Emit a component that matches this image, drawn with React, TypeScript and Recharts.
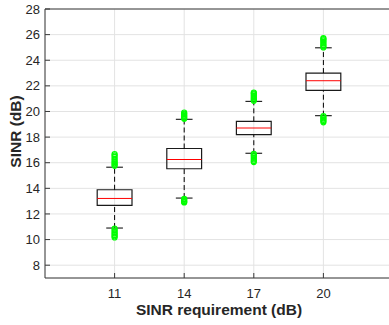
import React from 'react';
import {
  ComposedChart,
  XAxis,
  YAxis,
  CartesianGrid,
  ReferenceArea,
  ReferenceLine,
  Scatter,
} from 'recharts';

// SINR requirement categories (dB)
const categories = ['11', '14', '17', '20'];

// box statistics per category
const whiskerLow = [10.9, 13.24, 16.74, 19.67];
const q1 = [12.67, 15.53, 18.19, 21.64];
const median = [13.21, 16.25, 18.71, 22.4];
const q3 = [13.89, 17.11, 19.23, 23.0];
const whiskerHigh = [15.65, 19.39, 20.79, 24.97];

// outliers
const outliers11 = [15.76, 15.85, 15.95, 16.05, 16.18, 16.3, 16.45, 16.58, 16.68, 10.85, 10.72, 10.6, 10.48, 10.36, 10.25, 10.16];
const outliers14 = [19.43, 19.5, 19.58, 19.66, 19.75, 19.84, 19.92, 13.17, 13.1, 13.02, 12.94, 12.9];
const outliers17 = [20.83, 20.92, 21.02, 21.12, 21.22, 21.33, 21.42, 21.48, 16.7, 16.6, 16.5, 16.38, 16.26, 16.14, 16.05];
const outliers20 = [25.0, 25.1, 25.2, 25.32, 25.44, 25.55, 25.65, 25.72, 19.64, 19.55, 19.45, 19.35, 19.25, 19.15];

const yTicks = [8, 10, 12, 14, 16, 18, 20, 22, 24, 26, 28];
const xTicks = [1, 2, 3, 4];

const BOX_HALF = 0.25;
const CAP_HALF = 0.12;

const outlierPoints = [outliers11, outliers14, outliers17, outliers20].flatMap((list, i) =>
  list.map((v) => ({ x: i + 1, y: v }))
);

const axisColor = '#3a3a3a';
const textColor = '#262626';
const font = '"Liberation Sans", Arial, Helvetica, sans-serif';

const OutlierMarker = (props: any) => (
  <circle cx={props.cx} cy={props.cy} r={2.5} fill="none" stroke="#00ff00" strokeWidth={1.2} />
);

const YLabel = (props: any) => {
  const vb = props.viewBox;
  const x = 15;
  const y = vb.y + vb.height / 2 - 12;
  return (
    <text
      x={x}
      y={y}
      transform={`rotate(-90 ${x} ${y})`}
      textAnchor="middle"
      dominantBaseline="central"
      fontFamily={font}
      fontWeight="bold"
      fontSize={15.5}
      fill={textColor}
    >
      SINR (dB)
    </text>
  );
};

const App = () => {
  return (
    <div style={{ position: 'absolute', left: 0, top: 0, width: 389, height: 325, overflow: 'hidden', background: '#fff' }}>
      <ComposedChart width={400} height={325} margin={{ top: 0, right: 0, bottom: 0, left: 0 }}>
        <CartesianGrid stroke="#e3e3e3" strokeWidth={1} />
        <XAxis
          dataKey="x"
          type="number"
          domain={[0, 5]}
          ticks={xTicks}
          interval={0}
          tickFormatter={(v: number) => categories[v - 1]}
          height={47}
          stroke={axisColor}
          tickSize={-5}
          tickMargin={16}
          tick={{ fill: textColor, fontSize: 13, fontFamily: font }}
          label={{
            value: 'SINR requirement (dB)',
            position: 'insideBottom',
            offset: 10,
            style: { fontFamily: font, fontWeight: 'bold', fontSize: 15.5, fill: textColor },
          }}
        />
        <XAxis
          xAxisId="top"
          orientation="top"
          type="number"
          domain={[0, 5]}
          ticks={xTicks}
          interval={0}
          height={9}
          stroke={axisColor}
          tickSize={-5}
          tick={() => <g />}
        />
        <YAxis
          type="number"
          domain={[7, 28]}
          ticks={yTicks}
          interval={0}
          width={45}
          stroke={axisColor}
          tickSize={-5}
          tickMargin={10}
          tick={{ fill: textColor, fontSize: 13, fontFamily: font }}
          label={{ content: YLabel }}
        />
        <YAxis
          yAxisId="right"
          orientation="right"
          type="number"
          domain={[7, 28]}
          ticks={yTicks}
          interval={0}
          width={7}
          stroke={axisColor}
          tickSize={-5}
          tick={() => <g />}
        />

        {categories.map((c, i) => {
          const x = i + 1;
          return (
            <React.Fragment key={`box-${c}`}>
              <ReferenceLine
                segment={[{ x, y: q3[i] }, { x, y: whiskerHigh[i] }]}
                stroke="#000"
                strokeWidth={1}
                strokeDasharray="5 3"
              />
              <ReferenceLine
                segment={[{ x, y: whiskerLow[i] }, { x, y: q1[i] }]}
                stroke="#000"
                strokeWidth={1}
                strokeDasharray="5 3"
              />
              <ReferenceLine
                segment={[{ x: x - CAP_HALF, y: whiskerHigh[i] }, { x: x + CAP_HALF, y: whiskerHigh[i] }]}
                stroke="#000"
                strokeWidth={1}
              />
              <ReferenceLine
                segment={[{ x: x - CAP_HALF, y: whiskerLow[i] }, { x: x + CAP_HALF, y: whiskerLow[i] }]}
                stroke="#000"
                strokeWidth={1}
              />
              <ReferenceArea
                x1={x - BOX_HALF}
                x2={x + BOX_HALF}
                y1={q1[i]}
                y2={q3[i]}
                fill="none"
                fillOpacity={0}
                stroke="#1a1a1a"
                strokeWidth={1.2}
              />
              <ReferenceLine
                segment={[{ x: x - BOX_HALF, y: median[i] }, { x: x + BOX_HALF, y: median[i] }]}
                stroke="#ff0000"
                strokeWidth={1}
              />
            </React.Fragment>
          );
        })}

        <Scatter data={outlierPoints} dataKey="y" shape={OutlierMarker} isAnimationActive={false} />
      </ComposedChart>
    </div>
  );
};

export default App;
